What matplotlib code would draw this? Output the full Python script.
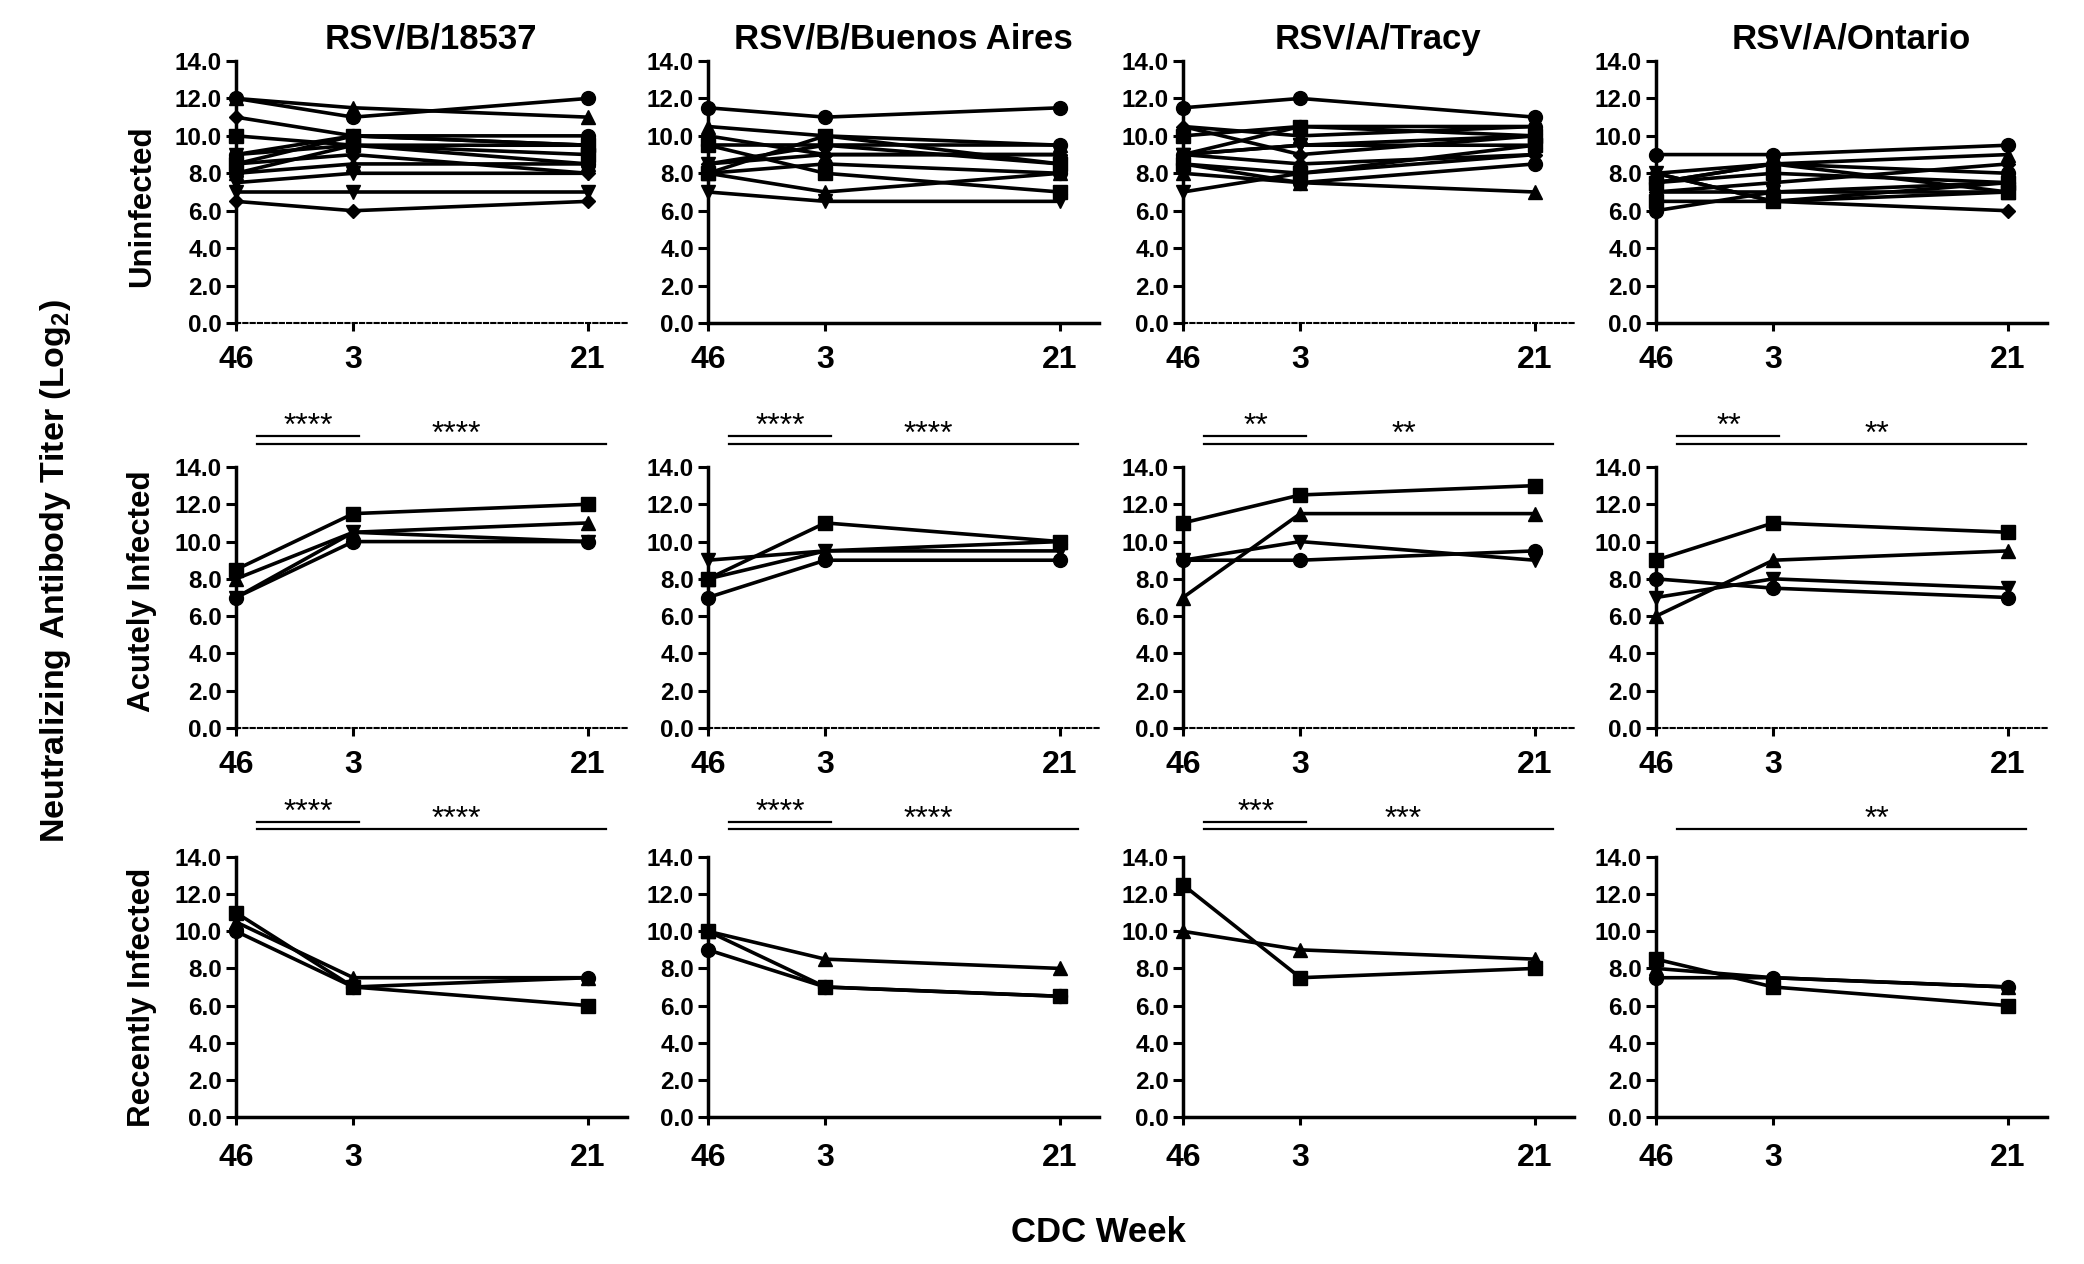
import matplotlib
matplotlib.use("Agg")
import matplotlib.pyplot as plt

plt.rcParams["font.family"] = ["Liberation Sans", "DejaVu Sans"]
plt.rcParams["font.weight"] = "bold"
plt.rcParams["mathtext.fontset"] = "custom"
plt.rcParams["mathtext.rm"] = "Liberation Sans:bold"
plt.rcParams["mathtext.bf"] = "Liberation Sans:bold"

strains = ["RSV/B/18537", "RSV/B/Buenos Aires", "RSV/A/Tracy", "RSV/A/Ontario"]
groups = ["Uninfected", "Acutely Infected", "Recently Infected"]
week_labels = ["46", "3", "21"]
week_pos = [0, 1, 3]

# titers (log2) at weeks 46, 3, 21 -- one row per subject
uninf_18537 = [[12, 11, 12], [12, 11.5, 11], [11, 10, 9.5], [10, 9.5, 9], [9, 10, 10],
               [9, 9.5, 9.5], [8.5, 9, 8], [8.5, 10, 9.5], [8, 9.5, 8.5], [8, 8.5, 8.5],
               [7.5, 8, 8], [7, 7, 7], [6.5, 6, 6.5]]
uninf_buenos = [[11.5, 11, 11.5], [10.5, 10, 9.5], [10, 9, 9], [9.5, 8, 7], [9.5, 9.5, 9.5],
                [8.5, 9.5, 8.5], [8.5, 9, 9], [8, 10, 8.5], [8, 8.5, 8], [8, 7, 8],
                [7, 6.5, 6.5]]
uninf_tracy = [[11.5, 12, 11], [10.5, 10, 10.5], [10.5, 9, 10], [10, 10.5, 10], [9, 10.5, 10.5],
               [9, 9.5, 9.5], [9, 8.5, 9], [8.5, 8, 9.5], [8.5, 7.5, 8.5], [8, 7.5, 7],
               [7, 8, 9], [9, 9.5, 10]]
uninf_ontario = [[9, 9, 9.5], [8, 8.5, 9], [8, 6.5, 6], [7.5, 8, 7.5], [7.5, 8.5, 8],
                 [7, 7, 7], [7, 7.5, 8.5], [6.5, 6.5, 7], [6, 7, 7.5], [7.5, 8.5, 7],
                 [8, 6.5, 7.5]]

acute_18537 = [[8.5, 11.5, 12], [8, 10.5, 11], [7, 10.5, 10], [7, 10, 10]]
acute_buenos = [[8, 11, 10], [8, 9.5, 10], [9, 9.5, 9.5], [7, 9, 9]]
acute_tracy = [[11, 12.5, 13], [7, 11.5, 11.5], [9, 10, 9], [9, 9, 9.5]]
acute_ontario = [[9, 11, 10.5], [6, 9, 9.5], [7, 8, 7.5], [8, 7.5, 7]]
acute_markers = ["s", "^", "v", "o"]

recent_18537 = [[11, 7, 6], [10.5, 7.5, 7.5], [10, 7, 7.5]]
recent_buenos = [[10, 7, 6.5], [10, 8.5, 8], [9, 7, 6.5]]
recent_tracy = [[12.5, 7.5, 8], [10, 9, 8.5]]
recent_ontario = [[8.5, 7, 6], [8, 7.5, 7], [7.5, 7.5, 7]]
recent_markers = ["s", "^", "o"]

uninf_markers = ["o", "^", "D", "s", "o", "v", "D", "s", "o", "^", "v", "v", "D"]

panels = [
    [uninf_18537, uninf_buenos, uninf_tracy, uninf_ontario],
    [acute_18537, acute_buenos, acute_tracy, acute_ontario],
    [recent_18537, recent_buenos, recent_tracy, recent_ontario],
]
marker_sets = [uninf_markers, acute_markers, recent_markers]

# significance labels (short bar: 46 vs 3, long bar: 46 vs 21)
acute_sig_short = ["****", "****", "**", "**"]
acute_sig_long = ["****", "****", "**", "**"]
recent_sig_short = ["****", "****", "***", None]
recent_sig_long = ["****", "****", "***", "**"]
sig_short = [None, acute_sig_short, recent_sig_short]
sig_long = [None, acute_sig_long, recent_sig_long]

# layout in pixels of the 2084x1264 canvas
W, H = 2084, 1264
col_x0 = [236, 708, 1183, 1656]
row_y0 = [323, 728, 1117]
row_y14 = [61, 467, 857]
unit_px = 352 / 3.0
xmax = 3.33
dotted_bottom = [[True, False, True, False], [True, True, True, True], [False, False, False, False]]

fig = plt.figure(figsize=(W / 100, H / 100), dpi=100)

for r in range(3):
    for c in range(4):
        left = col_x0[c] / W
        bottom = 1 - row_y0[r] / H
        width = unit_px * xmax / W
        height = (row_y0[r] - row_y14[r]) / H
        ax = fig.add_axes([left, bottom, width, height])
        ms = marker_sets[r]
        for i, vals in enumerate(panels[r][c]):
            m = ms[i % len(ms)]
            size = 7.5 if m == "D" else 10
            ax.plot(week_pos, vals, color="black", lw=2.6, marker=m, ms=size,
                    clip_on=False, zorder=3)
        ax.set_xlim(0, xmax)
        ax.set_ylim(0, 14)
        ax.set_yticks(range(0, 15, 2))
        ax.set_yticklabels([f"{v:.1f}" for v in range(0, 15, 2)])
        ax.set_xticks(week_pos)
        ax.set_xticklabels(week_labels)
        ax.spines["top"].set_visible(False)
        ax.spines["right"].set_visible(False)
        ax.spines["left"].set_linewidth(2.5)
        if dotted_bottom[r][c]:
            ax.spines["bottom"].set_linewidth(1.5)
            ax.spines["bottom"].set_linestyle((0, (2, 1.5)))
        else:
            ax.spines["bottom"].set_linewidth(2.5)
        ax.tick_params(axis="y", direction="out", length=7, width=2.2, labelsize=17.5, pad=3)
        ax.tick_params(axis="x", direction="out", length=6, width=2.2, labelsize=23,
                       pad=13 if r == 2 else 10)
        for lab in ax.get_xticklabels() + ax.get_yticklabels():
            lab.set_fontweight("bold")

        if sig_long[r] is not None:
            ys, yl = (15.65, 15.25) if r == 1 else (15.9, 15.5)
            if sig_short[r][c]:
                ax.plot([0.18, 1.05], [ys, ys], color="black", lw=1.6, clip_on=False)
                ax.text(0.62, ys + 0.05, sig_short[r][c], ha="center", va="baseline",
                        fontsize=23, fontweight="normal")
            ax.plot([0.18, 3.15], [yl, yl], color="black", lw=1.6, clip_on=False)
            ax.text(1.88, yl + 0.05, sig_long[r][c], ha="center", va="baseline",
                    fontsize=23, fontweight="normal")

        if r == 0:
            ax.set_title(strains[c], fontsize=25, fontweight="bold", pad=9)

row_label_y = [206, 591, 997]
for r in range(3):
    fig.text(142 / W, 1 - row_label_y[r] / H, groups[r], rotation=90, ha="center",
             va="center", fontsize=22.5, fontweight="bold")

fig.text(56 / W, 1 - 571 / H, r"Neutralizing Antibody Titer (Log$_\mathbf{2}$)", rotation=90,
         ha="center", va="center", fontsize=24.5, fontweight="bold")
fig.text(1098 / W, 1 - 1233 / H, "CDC Week", ha="center", va="center", fontsize=25,
         fontweight="bold")

fig.savefig("out.png", dpi=100)
